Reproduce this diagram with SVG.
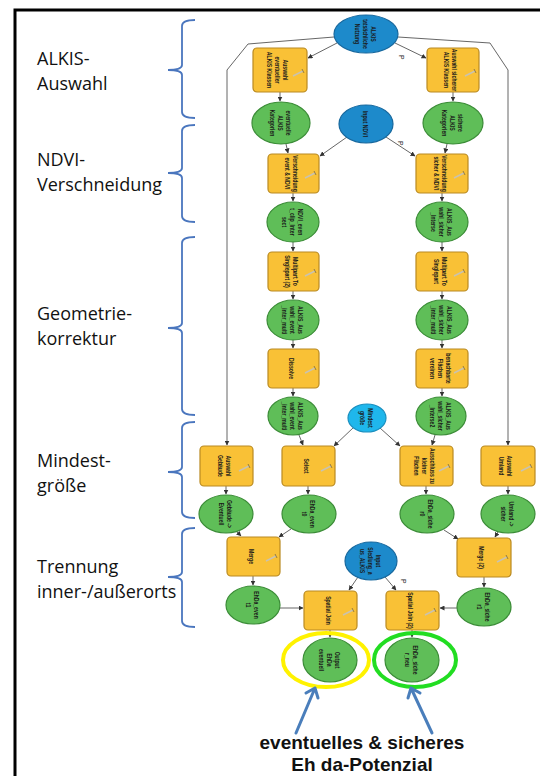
<svg xmlns="http://www.w3.org/2000/svg" width="540" height="776" viewBox="0 0 540 776">
<style>
.frame{fill:none;stroke:#000;stroke-width:3}
.brace{fill:none;stroke:#4A76BE;stroke-width:1.8}
.side{font-family:"Open Sans","Liberation Sans",sans-serif;font-size:18px;fill:#111}
.tool{fill:#F9C136;stroke:#B98A22;stroke-width:1.2}
.data{fill:#5FBE58;stroke:#3B8C37;stroke-width:1.2}
.inp{fill:#1D8ACB;stroke:#17689E;stroke-width:1.2}
.inp2{fill:#1FB7EC;stroke:#1A8FBF;stroke-width:1.2}
.icon{fill:none;stroke:#C9C2B0;stroke-width:1.6}
.icon2{fill:none;stroke:#7A6A40;stroke-width:0.8}
.lbl{font-family:"Liberation Sans",Arial,sans-serif;font-size:8px;fill:#1a1a1a;text-anchor:middle;font-weight:bold}
.p{font-family:"Liberation Sans",Arial,sans-serif;font-size:7px;fill:#222}
.conn path{fill:none;stroke:#555;stroke-width:0.9;marker-end:url(#ah)}
.ring{fill:none;stroke-width:4}
.barrow{fill:none;stroke:#4A7EBB;stroke-width:3;stroke-linecap:round;stroke-linejoin:round}
.big{font-family:"Liberation Sans",Arial,sans-serif;font-size:19px;font-weight:bold;fill:#111;text-anchor:middle}
</style>
<defs>
<marker id="ah" markerWidth="5" markerHeight="5" refX="4.5" refY="2.5" orient="auto" markerUnits="userSpaceOnUse">
<path d="M0,0 L5,2.5 L0,5 Z" fill="#333"/>
</marker>
</defs>

<path class="frame" d="M15,776 L15,10 L540,10"/>

<g id="braces">
<path class="brace" d="M195,20 Q182,20 182,26 L182,65 Q182,70 168,70 Q182,70 182,75 L182,112 Q182,118 195,118"/>
<path class="brace" d="M195,125 Q182,125 182,131 L182,168 Q182,173 168,173 Q182,173 182,178 L182,216 Q182,222 195,222"/>
<path class="brace" d="M195,237 Q182,237 182,243 L182,323 Q182,328 168,328 Q182,328 182,333 L182,409 Q182,415 195,415"/>
<path class="brace" d="M195,422 Q182,422 182,428 L182,467 Q182,472 168,472 Q182,472 182,477 L182,512 Q182,518 195,518"/>
<path class="brace" d="M195,528 Q182,528 182,534 L182,572 Q182,577 168,577 Q182,577 182,582 L182,621 Q182,627 195,627"/>
</g>

<g id="sidelabels">
<text class="side" x="37" y="65">ALKIS-</text>
<text class="side" x="37" y="90">Auswahl</text>
<text class="side" x="37" y="166">NDVI-</text>
<text class="side" x="37" y="191">Verschneidung</text>
<text class="side" x="37" y="320">Geometrie-</text>
<text class="side" x="37" y="345">korrektur</text>
<text class="side" x="37" y="467">Mindest-</text>
<text class="side" x="37" y="492">größe</text>
<text class="side" x="37" y="573">Trennung</text>
<text class="side" x="37" y="598">inner-/außerorts</text>
</g>

<g id="connectors" class="conn">
<path d="M337,43 L308,58"/>
<path d="M395,43 L426,58"/>
<path d="M334,37 L248,44 L227,70 L227,445"/>
<path d="M398,37 L490,43 L508,70 L508,445"/>
<path d="M280,92 L280,101"/>
<path d="M453,92 L453,101"/>
<path d="M286,144 L288,153"/>
<path d="M447,144 L445,153"/>
<path d="M347,137 L320,156"/>
<path d="M386,137 L415,156"/>
<path d="M293,193 L293,201"/>
<path d="M293,242 L293,251"/>
<path d="M293,291 L293,299"/>
<path d="M293,340 L293,348"/>
<path d="M293,388 L293,396"/>
<path d="M442,193 L442,201"/>
<path d="M442,242 L442,251"/>
<path d="M442,291 L442,299"/>
<path d="M442,340 L442,348"/>
<path d="M442,388 L442,396"/>
<path d="M299,435 L303,445"/>
<path d="M354,427 L334,446"/>
<path d="M380,428 L400,446"/>
<path d="M435,435 L432,445"/>
<path d="M226,486 L226,494"/>
<path d="M308,486 L308,494"/>
<path d="M426,486 L426,494"/>
<path d="M508,486 L508,494"/>
<path d="M237,532 L241,536"/>
<path d="M291,529 L279,537"/>
<path d="M444,530 L458,539"/>
<path d="M498,532 L495,537"/>
<path d="M253,576 L253,585"/>
<path d="M484,577 L484,587"/>
<path d="M280,608 L303,608"/>
<path d="M457,608 L440,608"/>
<path d="M358,577 L349,590"/>
<path d="M385,577 L396,590"/>
<path d="M330,630 L330,637"/>
<path d="M412,630 L412,637"/>
</g>

<g id="plabels">
<text class="p" transform="translate(399,55) rotate(90)">P</text>
<text class="p" transform="translate(398,141) rotate(90)">P</text>
<text class="p" transform="translate(401,579) rotate(90)">P</text>
</g>

<g id="n_alkis">
<ellipse class="inp" cx="366" cy="34" rx="32" ry="19"/>
<text class="lbl" transform="translate(366,34) rotate(90) scale(0.64,1)"><tspan x="0" y="-5">ALKIS</tspan><tspan x="0" y="3">tatsächliche</tspan><tspan x="0" y="11">Nutzung</tspan></text>
</g>
<g id="n_auswEv">
<rect class="tool" x="253" y="48" width="54" height="44" rx="4"/>
<path class="icon" d="M293,76 L303,71"/><path class="icon2" d="M302,69 L304,73"/>
<text class="lbl" transform="translate(278,70) rotate(90) scale(0.64,1)"><tspan x="0" y="-5">Auswahl</tspan><tspan x="0" y="3">eventueller</tspan><tspan x="0" y="11">ALKIS Klassen</tspan></text>
</g>
<g id="n_auswSi">
<rect class="tool" x="427" y="48" width="52" height="44" rx="4"/>
<path class="icon" d="M465,76 L475,71"/><path class="icon2" d="M474,69 L476,73"/>
<text class="lbl" transform="translate(451,70) rotate(90) scale(0.64,1)"><tspan x="0" y="-1">Auswahl sicherer</tspan><tspan x="0" y="7">ALKIS Klassen</tspan></text>
</g>

<g id="n_evKat">
<ellipse class="data" cx="281" cy="123" rx="29" ry="21"/>
<text class="lbl" transform="translate(281,123) rotate(90) scale(0.64,1)"><tspan x="0" y="-5">eventuelle</tspan><tspan x="0" y="3">ALKIS</tspan><tspan x="0" y="11">Kategorien</tspan></text>
</g>
<g id="n_ndvi">
<ellipse class="inp" cx="366" cy="124" rx="27" ry="19"/>
<text class="lbl" transform="translate(366,124) rotate(90) scale(0.64,1)"><tspan x="0" y="3">Input NDVI</tspan></text>
</g>
<g id="n_siKat">
<ellipse class="data" cx="453" cy="123" rx="30" ry="21"/>
<text class="lbl" transform="translate(453,123) rotate(90) scale(0.64,1)"><tspan x="0" y="-5">sichere</tspan><tspan x="0" y="3">ALKIS</tspan><tspan x="0" y="11">Kategorien</tspan></text>
</g>

<g id="n_verEv">
<rect class="tool" x="268" y="154" width="51" height="39" rx="4"/>
<path class="icon" d="M305,178 L315,173"/><path class="icon2" d="M314,171 L316,175"/>
<text class="lbl" transform="translate(292,173.5) rotate(90) scale(0.64,1)"><tspan x="0" y="-1">Verschneidung</tspan><tspan x="0" y="7">event &amp; NDVI</tspan></text>
</g>
<g id="n_verSi">
<rect class="tool" x="416" y="154" width="52" height="39" rx="4"/>
<path class="icon" d="M454,178 L464,173"/><path class="icon2" d="M463,171 L465,175"/>
<text class="lbl" transform="translate(441,173.5) rotate(90) scale(0.64,1)"><tspan x="0" y="-1">Verschneidung</tspan><tspan x="0" y="7">sicher &amp; NDVI</tspan></text>
</g>

<g id="n_ndviEv">
<ellipse class="data" cx="293" cy="222" rx="26" ry="20"/>
<text class="lbl" transform="translate(293,222) rotate(90) scale(0.64,1)"><tspan x="0" y="-5">NDVI_even</tspan><tspan x="0" y="3">t_clip_Inter</tspan><tspan x="0" y="11">sect</tspan></text>
</g>
<g id="n_siInt">
<ellipse class="data" cx="442" cy="222" rx="26" ry="20"/>
<text class="lbl" transform="translate(442,222) rotate(90) scale(0.64,1)"><tspan x="0" y="-5">ALKIS_Aus</tspan><tspan x="0" y="3">wahl_sicher</tspan><tspan x="0" y="11">_Interse</tspan></text>
</g>

<g id="n_mpEv">
<rect class="tool" x="268" y="252" width="51" height="39" rx="4"/>
<path class="icon" d="M305,276 L315,271"/><path class="icon2" d="M314,269 L316,273"/>
<text class="lbl" transform="translate(292,271.5) rotate(90) scale(0.64,1)"><tspan x="0" y="-1">Multipart To</tspan><tspan x="0" y="7">Singlepart (2)</tspan></text>
</g>
<g id="n_mpSi">
<rect class="tool" x="416" y="252" width="52" height="39" rx="4"/>
<path class="icon" d="M454,276 L464,271"/><path class="icon2" d="M463,269 L465,273"/>
<text class="lbl" transform="translate(441,271.5) rotate(90) scale(0.64,1)"><tspan x="0" y="-1">Multipart To</tspan><tspan x="0" y="7">Singlepart</tspan></text>
</g>

<g id="n_evMulti">
<ellipse class="data" cx="293" cy="320" rx="26" ry="20"/>
<text class="lbl" transform="translate(293,320) rotate(90) scale(0.64,1)"><tspan x="0" y="-5">ALKIS_Aus</tspan><tspan x="0" y="3">wahl_event</tspan><tspan x="0" y="11">_inter_multi</tspan></text>
</g>
<g id="n_siMulti">
<ellipse class="data" cx="442" cy="320" rx="26" ry="20"/>
<text class="lbl" transform="translate(442,320) rotate(90) scale(0.64,1)"><tspan x="0" y="-5">ALKIS_Aus</tspan><tspan x="0" y="3">wahl_sicher</tspan><tspan x="0" y="11">_inter_multi</tspan></text>
</g>

<g id="n_diss">
<rect class="tool" x="268" y="349" width="51" height="39" rx="4"/>
<path class="icon" d="M305,373 L315,368"/><path class="icon2" d="M314,366 L316,370"/>
<text class="lbl" transform="translate(292,368.5) rotate(90) scale(0.64,1)"><tspan x="0" y="3">Dissolve</tspan></text>
</g>
<g id="n_bena">
<rect class="tool" x="416" y="349" width="52" height="39" rx="4"/>
<path class="icon" d="M454,373 L464,368"/><path class="icon2" d="M463,366 L465,370"/>
<text class="lbl" transform="translate(441,368.5) rotate(90) scale(0.64,1)"><tspan x="0" y="-5">benachbarte</tspan><tspan x="0" y="3">Flächen</tspan><tspan x="0" y="11">vereinen</tspan></text>
</g>

<g id="n_evMulti2">
<ellipse class="data" cx="293" cy="416" rx="25" ry="19"/>
<text class="lbl" transform="translate(293,416) rotate(90) scale(0.64,1)"><tspan x="0" y="-5">ALKIS_Aus</tspan><tspan x="0" y="3">wahl_event</tspan><tspan x="0" y="11">_inter_multi</tspan></text>
</g>
<g id="n_mind">
<ellipse class="inp2" cx="367" cy="418" rx="19" ry="14"/>
<text class="lbl" transform="translate(367,418) rotate(90) scale(0.64,1)"><tspan x="0" y="-1">Mindest</tspan><tspan x="0" y="7">größe</tspan></text>
</g>
<g id="n_siInt2">
<ellipse class="data" cx="441" cy="416" rx="25" ry="19"/>
<text class="lbl" transform="translate(441,416) rotate(90) scale(0.64,1)"><tspan x="0" y="-5">ALKIS_Aus</tspan><tspan x="0" y="3">wahl_sicher</tspan><tspan x="0" y="11">_Interse2</tspan></text>
</g>

<g id="n_geb">
<rect class="tool" x="200" y="446" width="53" height="40" rx="4"/>
<path class="icon" d="M239,471 L249,466"/><path class="icon2" d="M248,464 L250,468"/>
<text class="lbl" transform="translate(225,466) rotate(90) scale(0.64,1)"><tspan x="0" y="-1">Auswahl</tspan><tspan x="0" y="7">Gebäude</tspan></text>
</g>
<g id="n_sel">
<rect class="tool" x="282" y="446" width="53" height="40" rx="4"/>
<path class="icon" d="M321,471 L331,466"/><path class="icon2" d="M330,464 L332,468"/>
<text class="lbl" transform="translate(307,466) rotate(90) scale(0.64,1)"><tspan x="0" y="3">Select</tspan></text>
</g>
<g id="n_aus">
<rect class="tool" x="400" y="446" width="53" height="40" rx="4"/>
<path class="icon" d="M439,471 L449,466"/><path class="icon2" d="M448,464 L450,468"/>
<text class="lbl" transform="translate(425,466) rotate(90) scale(0.64,1)"><tspan x="0" y="-5">Ausschluss zu</tspan><tspan x="0" y="3">kleiner</tspan><tspan x="0" y="11">Flächen</tspan></text>
</g>
<g id="n_uml">
<rect class="tool" x="481" y="446" width="54" height="40" rx="4"/>
<path class="icon" d="M521,471 L531,466"/><path class="icon2" d="M530,464 L532,468"/>
<text class="lbl" transform="translate(506,466) rotate(90) scale(0.64,1)"><tspan x="0" y="-1">Auswahl</tspan><tspan x="0" y="7">Umland</tspan></text>
</g>

<g id="n_gebEv">
<ellipse class="data" cx="226" cy="514" rx="27" ry="19"/>
<text class="lbl" transform="translate(226,514) rotate(90) scale(0.64,1)"><tspan x="0" y="-1">Gebäude -&gt;</tspan><tspan x="0" y="7">Eventuell</tspan></text>
</g>
<g id="n_ehEv0">
<ellipse class="data" cx="309" cy="514" rx="27" ry="19"/>
<text class="lbl" transform="translate(309,514) rotate(90) scale(0.64,1)"><tspan x="0" y="-1">EhDa_even</tspan><tspan x="0" y="7">t0</tspan></text>
</g>
<g id="n_ehSi0">
<ellipse class="data" cx="427" cy="514" rx="27" ry="19"/>
<text class="lbl" transform="translate(427,514) rotate(90) scale(0.64,1)"><tspan x="0" y="-1">EhDa_siche</tspan><tspan x="0" y="7">r0</tspan></text>
</g>
<g id="n_umSi">
<ellipse class="data" cx="508" cy="514" rx="27" ry="19"/>
<text class="lbl" transform="translate(508,514) rotate(90) scale(0.64,1)"><tspan x="0" y="-1">Umland -&gt;</tspan><tspan x="0" y="7">sicher</tspan></text>
</g>

<g id="n_merge">
<rect class="tool" x="227" y="537" width="53" height="39" rx="4"/>
<path class="icon" d="M266,561 L276,556"/><path class="icon2" d="M275,554 L277,558"/>
<text class="lbl" transform="translate(252,556.5) rotate(90) scale(0.64,1)"><tspan x="0" y="3">Merge</tspan></text>
</g>
<g id="n_siedl">
<ellipse class="inp" cx="371" cy="561" rx="26" ry="19"/>
<text class="lbl" transform="translate(371,561) rotate(90) scale(0.64,1)"><tspan x="0" y="-5">Input</tspan><tspan x="0" y="3">Siedlung_a</tspan><tspan x="0" y="11">us_ALKIS</tspan></text>
</g>
<g id="n_merge2">
<rect class="tool" x="457" y="538" width="54" height="39" rx="4"/>
<path class="icon" d="M497,562 L507,557"/><path class="icon2" d="M506,555 L508,559"/>
<text class="lbl" transform="translate(482,557.5) rotate(90) scale(0.64,1)"><tspan x="0" y="3">Merge (2)</tspan></text>
</g>

<g id="n_ehEv1">
<ellipse class="data" cx="253" cy="605" rx="27" ry="19"/>
<text class="lbl" transform="translate(253,605) rotate(90) scale(0.64,1)"><tspan x="0" y="-1">EhDa_even</tspan><tspan x="0" y="7">t1</tspan></text>
</g>
<g id="n_sj">
<rect class="tool" x="304" y="591" width="53" height="39" rx="4"/>
<path class="icon" d="M343,615 L353,610"/><path class="icon2" d="M352,608 L354,612"/>
<text class="lbl" transform="translate(329,610.5) rotate(90) scale(0.64,1)"><tspan x="0" y="3">Spatial Join</tspan></text>
</g>
<g id="n_sj2">
<rect class="tool" x="386" y="591" width="53" height="39" rx="4"/>
<path class="icon" d="M425,615 L435,610"/><path class="icon2" d="M434,608 L436,612"/>
<text class="lbl" transform="translate(411,610.5) rotate(90) scale(0.64,1)"><tspan x="0" y="3">Spatial Join (2)</tspan></text>
</g>
<g id="n_ehSi1">
<ellipse class="data" cx="484" cy="607" rx="27" ry="19"/>
<text class="lbl" transform="translate(484,607) rotate(90) scale(0.64,1)"><tspan x="0" y="-1">EhDa_siche</tspan><tspan x="0" y="7">r1</tspan></text>
</g>

<g id="n_out">
<ellipse class="data" cx="330" cy="660" rx="27" ry="22"/>
<text class="lbl" transform="translate(330,660) rotate(90) scale(0.64,1)"><tspan x="0" y="-5">Output</tspan><tspan x="0" y="3">EhDa</tspan><tspan x="0" y="11">eventuell</tspan></text>
</g>
<g id="n_siNeu">
<ellipse class="data" cx="412" cy="660" rx="27" ry="22"/>
<text class="lbl" transform="translate(412,660) rotate(90) scale(0.64,1)"><tspan x="0" y="-1">EhDa_siche</tspan><tspan x="0" y="7">r_neu</tspan></text>
</g>

<g id="highlights">
<ellipse class="ring" cx="326" cy="660" rx="43" ry="27" stroke="#FFF200"/>
<ellipse class="ring" cx="415" cy="660" rx="41" ry="27" stroke="#22DD22"/>
<path class="barrow" d="M296,733 L315,688 M306,693 L315,688 L318,698"/>
<path class="barrow" d="M432,733 L411,688 M408,698 L411,688 L420,693"/>
</g>

<g id="caption">
<text class="big" x="362" y="749">eventuelles &amp; sicheres</text>
<text class="big" x="362" y="771">Eh da-Potenzial</text>
</g>
</svg>
